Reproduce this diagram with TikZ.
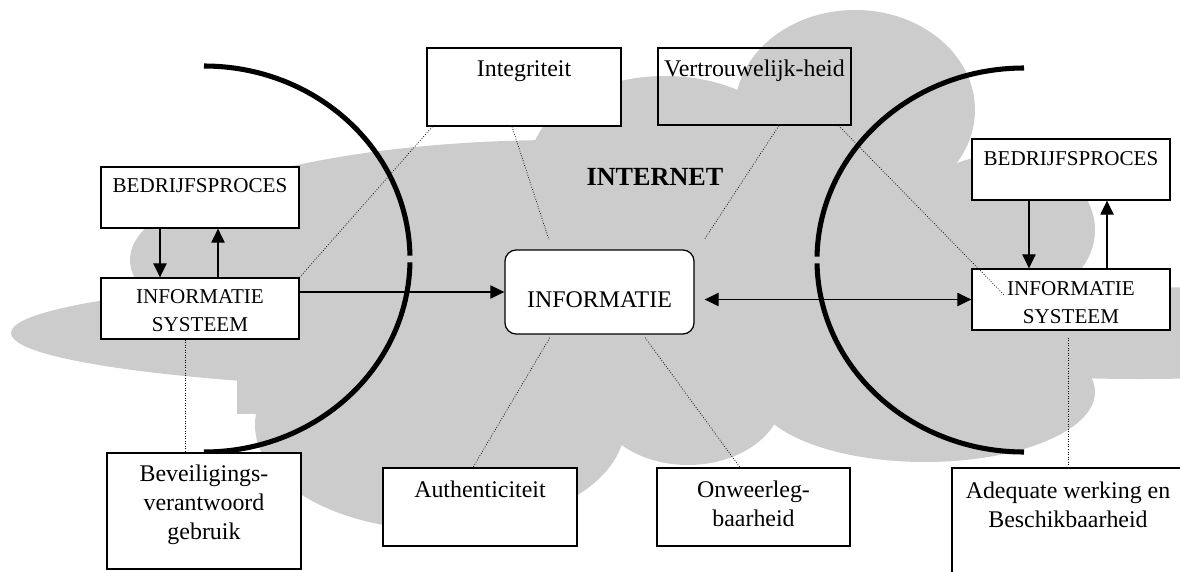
\documentclass[tikz,border=0pt]{standalone}
\usepackage{fontspec}
\setmainfont{Liberation Serif}
\usetikzlibrary{arrows.meta,positioning}
\definecolor{cloudgray}{HTML}{CCCCCC}

\begin{document}
\begin{tikzpicture}[
    x=0.025cm, y=-0.025cm,
    font=\fontsize{17}{20.5}\selectfont,
    tbox/.style={
        draw, line width=0.9pt, fill=white,
        minimum width=4.85cm, minimum height=1.95cm, inner sep=0pt
    },
    sbox/.style={tbox, minimum width=4.95cm, minimum height=1.525cm},
    infobox/.style={tbox, rounded corners=8pt,
        minimum width=4.725cm, minimum height=2.1cm},
    lbl/.style={anchor=north, inner sep=0pt, align=center},
    slbl/.style={lbl, font=\fontsize{15}{19.7}\selectfont},
    flow/.style={-{Triangle[length=10pt,width=9.5pt]}, line width=0.9pt},
    dflow/.style={{Triangle[length=10pt,width=9.5pt]}-{Triangle[length=10pt,width=9.5pt]},
        line width=0.9pt},
    link/.style={line width=0.5pt, dash pattern=on 0.6pt off 1.2pt},
    wall/.style={line width=3.6pt}
]
\useasboundingbox (0,0) rectangle (1180,572);

% Internet cloud
\fill[cloudgray] (561,333) ellipse [x radius=550, y radius=59];
\fill[cloudgray] (440,425) ellipse [x radius=185, y radius=105];
\fill[cloudgray] (688,395) ellipse [x radius=95, y radius=70];
\fill[cloudgray] (925,392) ellipse [x radius=170, y radius=70];
\fill[cloudgray] (1140,333) ellipse [x radius=300, y radius=46];
\fill[cloudgray] (560,260) ellipse [x radius=430, y radius=120];
\fill[cloudgray] (665,165) ellipse [x radius=135, y radius=89];
\fill[cloudgray] (855,110) ellipse [x radius=120, y radius=100];
\fill[cloudgray] (1000,230) ellipse [x radius=95, y radius=75];
\fill[cloudgray] (237,370) rectangle (300,414);

\node[font=\fontsize{18.6}{22}\selectfont\bfseries] (net) at (655,177) {INTERNET};

% Boundaries
\draw[wall] (204,66) arc [start angle=-90, end angle=-1, x radius=206, y radius=193];
\draw[wall] (204,452) arc [start angle=90, end angle=1, x radius=206, y radius=193];
\draw[wall] (1024,68) arc [start angle=-90, end angle=-179, x radius=207, y radius=192];
\draw[wall] (1024,452) arc [start angle=90, end angle=179, x radius=207, y radius=192];

% Left organisation
\node[sbox] (bpl) at (200,197.5) {};
\node[slbl, below=0.3cm of bpl.north] (bpl-t) {BEDRIJFSPROCES};
\node[sbox] (isl) at (200,308.5) {};
\node[slbl, below=0.3cm of isl.north] (isl-t) {INFORMATIE\\SYSTEEM};

% Right organisation
\node[sbox] (bpr) at (1071,169.5) {};
\node[slbl, below=0.32cm of bpr.north] (bpr-t) {BEDRIJFSPROCES};
\node[sbox] (isr) at (1071,299.5) {};
\node[slbl, below=0.32cm of isr.north] (isr-t) {INFORMATIE\\SYSTEEM};

% Information and its properties
\node[infobox] (info) at (599.5,292) {};
\node[lbl, below=1.04cm of info.north] (info-t) {INFORMATIE};

\node[tbox] (integ) at (524,87) {};
\node[lbl, below=0.33cm of integ.north] (integ-t) {Integriteit};
\node[tbox, fill=none, minimum width=4.825cm, minimum height=1.925cm] (vertr) at (754.5,86.5) {};
\node[lbl, below=0.295cm of vertr.north] (vertr-t) {Vertrouwelijk-heid};
\node[tbox, minimum height=2.9cm] (bev) at (204,511) {};
\node[lbl, below=0.31cm of bev.north] (bev-t) {Beveiligings-\\verantwoord\\gebruik};
\node[tbox] (auth) at (480,507) {};
\node[lbl, below=0.335cm of auth.north] (auth-t) {Authenticiteit};
\node[tbox, minimum width=4.825cm] (onw) at (753.5,507) {};
\node[lbl, below=0.34cm of onw.north] (onw-t) {Onweerleg-\\baarheid};
\node[tbox, fill=none, minimum width=5.8cm, minimum height=3.05cm] (adeq) at (1068,529) {};
\node[lbl, below=0.36cm of adeq.north] (adeq-t) {Adequate werking en\\Beschikbaarheid};

% Flows
\draw[flow] ([xshift=-1cm]bpl.south) -- ([xshift=-1cm]bpl.south |- isl.north);
\draw[flow] ([xshift=0.45cm]isl.north) -- ([xshift=0.45cm]isl.north |- bpl.south);
\draw[flow] ([xshift=-1.05cm]bpr.south) -- ([xshift=-1.05cm]bpr.south |- isr.north);
\draw[flow] ([xshift=0.9cm]isr.north) -- ([xshift=0.9cm]isr.north |- bpr.south);
\draw[flow] (isl.east |- info.west) -- (info.west);
\draw[dflow] ([xshift=0.25cm]info.east |- isr.west) -- (isr.west);

% Dotted relations
\coordinate (integ-end) at (549,240);
\coordinate (vertr-end) at (704,240);
\draw[link] (isl.north east) -- ([xshift=0.15cm]integ.south west);
\draw[link] ([xshift=-0.3cm]integ.south) -- (integ-end);
\draw[link] ([xshift=0.61cm]vertr.south) -- (vertr-end);
\draw[link] ([xshift=-0.325cm]vertr.south east) -- ([xshift=-1.65cm,yshift=0.09cm]isr.center);
\draw[link] ([xshift=-1.24cm,yshift=-0.075cm]info.south) -- ([xshift=-0.175cm]auth.north);
\draw[link] ([xshift=1.14cm,yshift=-0.075cm]info.south) -- ([xshift=-0.34cm]onw.north);
\draw[link] ([xshift=-0.375cm]isl.south) -- ([xshift=-0.375cm]isl.south |- bev.north);
\draw[link] ([xshift=-0.075cm,yshift=-0.175cm]isr.south) -- ([xshift=-0.075cm]isr.south |- adeq.north);

\end{tikzpicture}
\end{document}
